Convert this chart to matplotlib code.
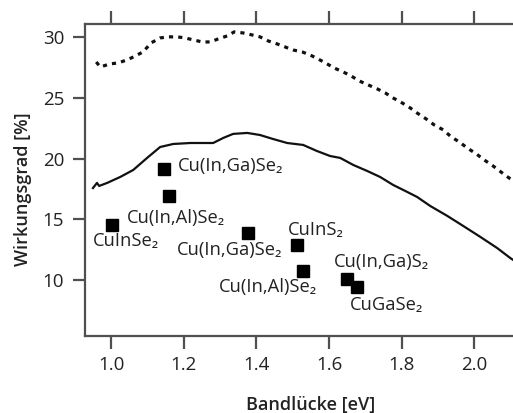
import matplotlib
matplotlib.use("Agg")
import matplotlib.pyplot as plt

plt.rcParams['font.family'] = ['Open Sans', 'DejaVu Sans']

# theoretical limit (dotted) - band gap [eV] vs efficiency [%]
limit_x = [0.959, 0.970, 0.997, 1.019, 1.044, 1.061, 1.088, 1.110, 1.135, 1.157,
           1.182, 1.204, 1.226, 1.251, 1.273, 1.295, 1.320, 1.339, 1.364, 1.388,
           1.410, 1.433, 1.457, 1.479, 1.501, 1.526, 1.548, 1.570, 1.595, 1.614,
           1.639, 1.661, 1.683, 1.708, 1.733, 1.755, 1.777, 1.802, 1.824, 1.843,
           1.868, 1.890, 1.915, 1.937, 1.959, 1.981, 2.006, 2.028, 2.052, 2.074,
           2.096, 2.110]
limit_y = [27.97, 27.56, 27.81, 27.89, 28.14, 28.38, 28.80, 29.54, 29.95, 30.04,
           30.04, 29.95, 29.79, 29.62, 29.62, 29.87, 30.12, 30.45, 30.36, 30.20,
           30.04, 29.70, 29.46, 29.21, 28.96, 28.80, 28.55, 28.22, 27.81, 27.48,
           27.15, 26.82, 26.41, 26.08, 25.75, 25.42, 25.00, 24.59, 24.18, 23.76,
           23.27, 22.78, 22.37, 21.79, 21.38, 20.88, 20.39, 19.89, 19.40, 18.90,
           18.41, 18.20]

# realistic limit (solid)
real_x = [0.950, 0.961, 0.967, 0.989, 1.025, 1.061, 1.099, 1.135, 1.171, 1.218,
          1.281, 1.309, 1.336, 1.375, 1.410, 1.446, 1.485, 1.529, 1.567, 1.603,
          1.631, 1.667, 1.705, 1.741, 1.777, 1.810, 1.843, 1.879, 1.926, 1.970,
          2.017, 2.063, 2.099, 2.110]
real_y = [17.58, 18.00, 17.75, 18.00, 18.49, 19.07, 20.06, 20.96, 21.21, 21.29,
          21.29, 21.71, 22.04, 22.12, 21.95, 21.62, 21.29, 21.13, 20.63, 20.22,
          20.06, 19.48, 18.99, 18.49, 17.83, 17.34, 16.84, 16.10, 15.28, 14.45,
          13.55, 12.64, 11.82, 11.60]

# measured cells
cell_names = ['Cu(In,Ga)Se₂', 'Cu(In,Al)Se₂', 'CuInSe₂', 'Cu(In,Ga)Se₂',
              'CuInS₂', 'Cu(In,Al)Se₂', 'Cu(In,Ga)S₂', 'CuGaSe₂']
cell_gap = [1.146, 1.160, 1.003, 1.377, 1.512, 1.529, 1.650, 1.678]
cell_eff = [19.15, 16.93, 14.53, 13.88, 12.88, 10.74, 10.08, 9.42]

# label offsets in pixels (dx, dy) and horizontal alignment
label_offsets = [(14, 3, 'left'), (7, -22, 'center'), (14, -16, 'center'),
                 (-18, -17, 'center'), (19, 15, 'center'), (-35, -16, 'center'),
                 (34, 17, 'center'), (29, -18, 'center')]

fig = plt.figure(figsize=(5.13, 4.13), dpi=100)
ax = fig.add_axes([0.1657, 0.1864, 0.8343, 0.7555])

ax.plot(limit_x, limit_y, color='#111111', lw=2.3, linestyle=(0, (1.3, 1.6)))
ax.plot(real_x, real_y, color='#111111', lw=1.6)
ax.plot(cell_gap, cell_eff, 's', color='black', markersize=8.8, linestyle='none')

for name, gx, ey, (dx, dy, ha) in zip(cell_names, cell_gap, cell_eff, label_offsets):
    ax.annotate(name, (gx, ey), xytext=(dx, dy), textcoords='offset pixels',
                ha=ha, va='center', fontsize=13.2, color='#222222')

ax.set_xlim(0.928, 2.107)
ax.set_ylim(5.38, 31.1)
ax.set_xticks([1.0, 1.2, 1.4, 1.6, 1.8, 2.0])
ax.set_yticks([10, 15, 20, 25, 30])
ax.set_xticklabels(['1.0', '1.2', '1.4', '1.6', '1.8', '2.0'])

ax.spines['right'].set_visible(False)
for s in ['left', 'top', 'bottom']:
    ax.spines[s].set_color('#505050')
    ax.spines[s].set_linewidth(1.6)

ax.tick_params(axis='x', which='both', top=True, bottom=True, direction='out',
               length=9.5, width=1.6, color='#505050', labelsize=13.5,
               labelcolor='#222222', pad=5)
ax.tick_params(axis='y', direction='out', length=9, width=1.6, color='#505050',
               labelsize=13.5, labelcolor='#222222', pad=6)

ax.set_xlabel('Bandlücke [eV]', fontsize=13, fontweight='semibold', color='#222222')
ax.set_ylabel('Wirkungsgrad [%]', fontsize=13, fontweight='semibold', color='#222222')
ax.xaxis.set_label_coords(0.526, -0.192)
ax.yaxis.set_label_coords(-0.125, 0.47)

fig.savefig('out.png', dpi=100)
